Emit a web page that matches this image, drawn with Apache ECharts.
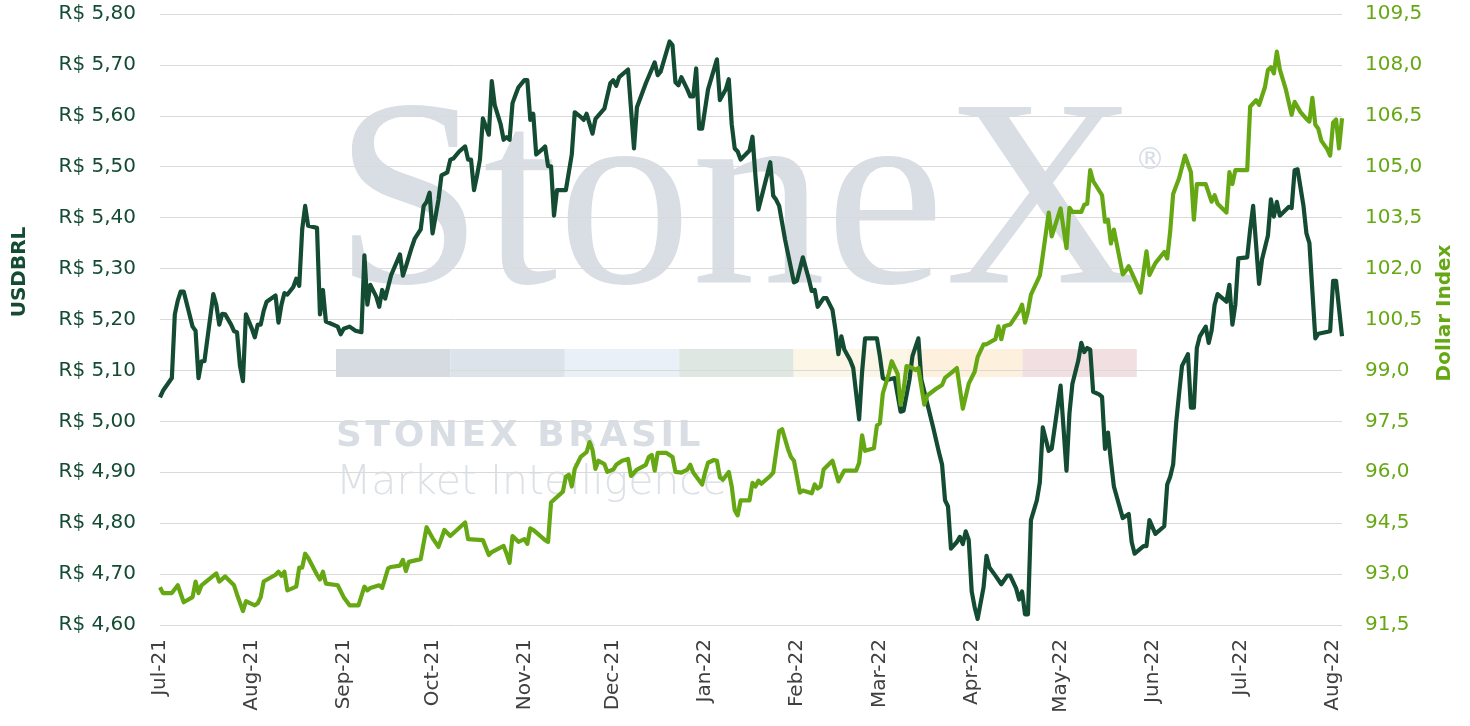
<!DOCTYPE html>
<html>
<head>
<meta charset="utf-8">
<script src="https://cdn.jsdelivr.net/npm/echarts@6/dist/echarts.min.js"></script>
<style>
    html, body { margin: 0; padding: 0; background: #fff; }
    #chart { width: 1470px; height: 726px; }
</style>
</head>
<body>
<div id="chart"></div>
<script>
// USDBRL (left axis)
const usdDates = [
    '2021-07-01','2021-07-02','2021-07-05','2021-07-06','2021-07-07','2021-07-08','2021-07-09','2021-07-12','2021-07-13','2021-07-14',
    '2021-07-15','2021-07-16','2021-07-19','2021-07-20','2021-07-21','2021-07-22','2021-07-23','2021-07-25','2021-07-26','2021-07-27',
    '2021-07-28','2021-07-29','2021-07-30','2021-08-01','2021-08-02','2021-08-03','2021-08-04','2021-08-05','2021-08-06','2021-08-09',
    '2021-08-10','2021-08-11','2021-08-12','2021-08-13','2021-08-15','2021-08-16','2021-08-17','2021-08-18','2021-08-19','2021-08-20',
    '2021-08-23','2021-08-24','2021-08-25','2021-08-26','2021-08-30','2021-08-31','2021-09-01','2021-09-03','2021-09-05','2021-09-07',
    '2021-09-08','2021-09-09','2021-09-10','2021-09-12','2021-09-13','2021-09-14','2021-09-15','2021-09-17','2021-09-20','2021-09-21',
    '2021-09-22','2021-09-24','2021-09-25','2021-09-27','2021-09-28','2021-09-29','2021-09-30','2021-10-01','2021-10-03','2021-10-04',
    '2021-10-06','2021-10-07','2021-10-08','2021-10-10','2021-10-12','2021-10-13','2021-10-14','2021-10-15','2021-10-16','2021-10-17',
    '2021-10-18','2021-10-20','2021-10-21','2021-10-22','2021-10-24','2021-10-25','2021-10-26','2021-10-27','2021-10-28','2021-10-29',
    '2021-10-30','2021-11-01','2021-11-02','2021-11-03','2021-11-04','2021-11-05','2021-11-07','2021-11-08','2021-11-09','2021-11-10',
    '2021-11-11','2021-11-12','2021-11-15','2021-11-16','2021-11-17','2021-11-18','2021-11-20','2021-11-21','2021-11-22','2021-11-24',
    '2021-11-25','2021-11-28','2021-11-30','2021-12-01','2021-12-02','2021-12-03','2021-12-06','2021-12-08','2021-12-09','2021-12-12',
    '2021-12-15','2021-12-16','2021-12-17','2021-12-20','2021-12-21','2021-12-22','2021-12-23','2021-12-24','2021-12-26','2021-12-27',
    '2021-12-28','2021-12-29','2021-12-30','2021-12-31','2022-01-02','2022-01-05','2022-01-06','2022-01-08','2022-01-09','2022-01-10',
    '2022-01-11','2022-01-12','2022-01-13','2022-01-14','2022-01-16','2022-01-17','2022-01-18','2022-01-19','2022-01-21','2022-01-22',
    '2022-01-23','2022-01-24','2022-01-25','2022-01-26','2022-01-28','2022-01-31','2022-02-01','2022-02-03','2022-02-05','2022-02-06',
    '2022-02-07','2022-02-08','2022-02-10','2022-02-11','2022-02-13','2022-02-14','2022-02-15','2022-02-16','2022-02-17','2022-02-19',
    '2022-02-20','2022-02-22','2022-02-23','2022-02-24','2022-02-28','2022-03-01','2022-03-02','2022-03-03','2022-03-04','2022-03-06',
    '2022-03-08','2022-03-09','2022-03-11','2022-03-12','2022-03-14','2022-03-15','2022-03-17','2022-03-19','2022-03-21','2022-03-22',
    '2022-03-23','2022-03-24','2022-03-25','2022-03-27','2022-03-28','2022-03-29','2022-03-30','2022-03-31','2022-04-01','2022-04-02',
    '2022-04-03','2022-04-05','2022-04-06','2022-04-07','2022-04-09','2022-04-11','2022-04-13','2022-04-14','2022-04-16','2022-04-17',
    '2022-04-18','2022-04-19','2022-04-20','2022-04-21','2022-04-23','2022-04-24','2022-04-25','2022-04-27','2022-04-28','2022-05-01',
    '2022-05-03','2022-05-04','2022-05-05','2022-05-07','2022-05-08','2022-05-09','2022-05-10','2022-05-11','2022-05-12','2022-05-14',
    '2022-05-15','2022-05-16','2022-05-17','2022-05-18','2022-05-19','2022-05-22','2022-05-24','2022-05-25','2022-05-26','2022-05-27',
    '2022-05-29','2022-05-30','2022-05-31','2022-06-02','2022-06-05','2022-06-06','2022-06-07','2022-06-08','2022-06-09','2022-06-10',
    '2022-06-11','2022-06-13','2022-06-14','2022-06-15','2022-06-16','2022-06-17','2022-06-19','2022-06-20','2022-06-21','2022-06-22',
    '2022-06-23','2022-06-26','2022-06-27','2022-06-28','2022-06-29','2022-06-30','2022-07-03','2022-07-04','2022-07-05','2022-07-07',
    '2022-07-08','2022-07-10','2022-07-11','2022-07-12','2022-07-13','2022-07-14','2022-07-17','2022-07-18','2022-07-19','2022-07-20',
    '2022-07-22','2022-07-23','2022-07-24','2022-07-25','2022-07-26','2022-07-27','2022-07-31','2022-08-01','2022-08-02','2022-08-04'
];
const usdValues = [
    5.047,5.06,5.085,5.21,5.237,5.255,5.255,5.186,5.178,5.085,
    5.118,5.118,5.25,5.229,5.19,5.211,5.21,5.19,5.177,5.175,
    5.109,5.079,5.21,5.182,5.165,5.19,5.19,5.217,5.235,5.247,
    5.194,5.229,5.252,5.249,5.264,5.28,5.266,5.377,5.423,5.384,
    5.38,5.21,5.258,5.196,5.186,5.171,5.182,5.186,5.178,5.175,
    5.326,5.229,5.268,5.245,5.225,5.258,5.241,5.287,5.328,5.286,
    5.304,5.342,5.359,5.377,5.423,5.431,5.449,5.369,5.435,5.483,
    5.489,5.514,5.516,5.53,5.54,5.514,5.514,5.454,5.482,5.514,
    5.595,5.563,5.668,5.621,5.583,5.553,5.558,5.553,5.625,5.641,
    5.656,5.67,5.67,5.592,5.604,5.524,5.534,5.54,5.501,5.501,
    5.404,5.454,5.454,5.489,5.524,5.607,5.598,5.592,5.604,5.565,
    5.594,5.614,5.664,5.67,5.659,5.676,5.691,5.536,5.617,5.664,
    5.705,5.68,5.687,5.746,5.739,5.666,5.66,5.676,5.652,5.638,
    5.638,5.693,5.575,5.575,5.652,5.711,5.631,5.652,5.672,5.583,
    5.536,5.53,5.514,5.52,5.532,5.559,5.482,5.416,5.462,5.485,
    5.509,5.443,5.435,5.423,5.357,5.273,5.276,5.322,5.28,5.256,
    5.258,5.225,5.242,5.242,5.219,5.18,5.132,5.167,5.141,5.12,
    5.105,5.004,5.097,5.163,5.163,5.128,5.085,5.082,5.082,5.085,
    5.019,5.021,5.082,5.128,5.163,5.082,5.035,4.988,4.938,4.915,
    4.845,4.833,4.75,4.763,4.773,4.759,4.784,4.767,4.666,4.635,
    4.612,4.674,4.736,4.713,4.697,4.68,4.697,4.697,4.672,4.65,
    4.666,4.621,4.621,4.806,4.845,4.88,4.988,4.942,4.946,5.07,
    4.903,5.016,5.074,5.12,5.154,5.136,5.144,5.141,5.058,5.053,
    5.048,4.946,4.978,4.922,4.872,4.81,4.818,4.763,4.74,4.745,
    4.755,4.755,4.806,4.779,4.794,4.876,4.891,4.915,4.996,5.054,
    5.109,5.132,5.027,5.027,5.144,5.167,5.186,5.154,5.179,5.229,
    5.25,5.235,5.268,5.19,5.229,5.32,5.322,5.377,5.423,5.27,
    5.318,5.365,5.436,5.402,5.431,5.404,5.421,5.419,5.493,5.495,
    5.423,5.369,5.35,5.256,5.163,5.172,5.177,5.276,5.276,5.167
];

// Dollar Index (right axis)
const dxyDates = [
    '2021-07-01','2021-07-02','2021-07-05','2021-07-07','2021-07-09','2021-07-12','2021-07-13','2021-07-14','2021-07-15','2021-07-20',
    '2021-07-21','2021-07-23','2021-07-26','2021-07-27','2021-07-29','2021-07-30','2021-08-02','2021-08-03','2021-08-04','2021-08-05',
    '2021-08-09','2021-08-10','2021-08-11','2021-08-12','2021-08-13','2021-08-16','2021-08-17','2021-08-18','2021-08-19','2021-08-20',
    '2021-08-23','2021-08-24','2021-08-25','2021-08-26','2021-08-30','2021-09-01','2021-09-03','2021-09-06','2021-09-08','2021-09-09',
    '2021-09-10','2021-09-13','2021-09-14','2021-09-16','2021-09-17','2021-09-20','2021-09-21','2021-09-22','2021-09-23','2021-09-27',
    '2021-09-29','2021-10-01','2021-10-03','2021-10-05','2021-10-07','2021-10-12','2021-10-13','2021-10-18','2021-10-20','2021-10-21',
    '2021-10-25','2021-10-26','2021-10-27','2021-10-28','2021-10-30','2021-11-01','2021-11-02','2021-11-03','2021-11-04','2021-11-08',
    '2021-11-09','2021-11-10','2021-11-11','2021-11-14','2021-11-15','2021-11-16','2021-11-17','2021-11-18','2021-11-20','2021-11-22',
    '2021-11-23','2021-11-24','2021-11-25','2021-11-26','2021-11-28','2021-11-29','2021-12-01','2021-12-02','2021-12-04','2021-12-06',
    '2021-12-07','2021-12-09','2021-12-12','2021-12-13','2021-12-14','2021-12-15','2021-12-16','2021-12-19','2021-12-21','2021-12-22',
    '2021-12-24','2021-12-26','2021-12-27','2021-12-28','2021-12-31','2022-01-01','2022-01-02','2022-01-04','2022-01-05','2022-01-06',
    '2022-01-07','2022-01-09','2022-01-10','2022-01-11','2022-01-12','2022-01-13','2022-01-16','2022-01-17','2022-01-18','2022-01-19',
    '2022-01-20','2022-01-23','2022-01-24','2022-01-26','2022-01-27','2022-01-29','2022-01-30','2022-01-31','2022-02-02','2022-02-03',
    '2022-02-06','2022-02-07','2022-02-08','2022-02-09','2022-02-10','2022-02-13','2022-02-15','2022-02-17','2022-02-21','2022-02-22',
    '2022-02-23','2022-02-24','2022-02-27','2022-02-28','2022-03-01','2022-03-02','2022-03-04','2022-03-05','2022-03-07','2022-03-08',
    '2022-03-09','2022-03-10','2022-03-12','2022-03-13','2022-03-14','2022-03-16','2022-03-17','2022-03-20','2022-03-22','2022-03-23',
    '2022-03-25','2022-03-27','2022-03-29','2022-03-31','2022-04-02','2022-04-03','2022-04-05','2022-04-06','2022-04-09','2022-04-10',
    '2022-04-11','2022-04-12','2022-04-14','2022-04-17','2022-04-18','2022-04-19','2022-04-20','2022-04-21','2022-04-24','2022-04-25',
    '2022-04-27','2022-04-28','2022-05-01','2022-05-03','2022-05-04','2022-05-05','2022-05-08','2022-05-09','2022-05-10','2022-05-11',
    '2022-05-12','2022-05-15','2022-05-16','2022-05-17','2022-05-18','2022-05-19','2022-05-22','2022-05-23','2022-05-24','2022-05-26',
    '2022-05-28','2022-05-30','2022-05-31','2022-06-02','2022-06-05','2022-06-06','2022-06-07','2022-06-08','2022-06-10','2022-06-12',
    '2022-06-14','2022-06-15','2022-06-16','2022-06-19','2022-06-21','2022-06-22','2022-06-23','2022-06-26','2022-06-27','2022-06-28',
    '2022-06-29','2022-07-03','2022-07-04','2022-07-06','2022-07-07','2022-07-09','2022-07-10','2022-07-11','2022-07-12','2022-07-13',
    '2022-07-14','2022-07-16','2022-07-18','2022-07-19','2022-07-21','2022-07-23','2022-07-24','2022-07-25','2022-07-26','2022-07-27',
    '2022-07-28','2022-07-30','2022-07-31','2022-08-01','2022-08-02','2022-08-03','2022-08-04'
];
const dxyValues = [
    92.61,92.44,92.44,92.67,92.17,92.32,92.78,92.44,92.67,93.02,
    92.78,92.93,92.67,92.40,91.91,92.20,92.08,92.14,92.32,92.78,
    92.98,93.07,92.95,93.07,92.52,92.63,93.19,93.19,93.60,93.48,
    92.98,92.84,93.07,92.72,92.67,92.32,92.08,92.08,92.63,92.52,
    92.59,92.67,92.59,93.17,93.21,93.25,93.42,93.09,93.36,93.44,
    94.38,94.06,93.80,94.30,94.12,94.52,94.03,94.00,93.56,93.65,
    93.83,93.60,93.33,94.12,93.95,94.03,93.89,94.35,94.30,94.00,
    93.95,95.11,95.19,95.43,95.87,95.93,95.58,96.10,96.45,96.59,
    96.89,96.66,96.10,96.34,96.24,96.01,96.08,96.22,96.34,96.39,
    95.89,96.08,96.22,96.45,96.51,96.05,96.57,96.57,96.45,96.01,
    95.99,96.08,96.22,95.99,95.64,95.99,96.28,96.36,96.34,95.85,
    95.78,96.01,95.58,94.88,94.73,95.17,95.17,95.69,95.58,95.75,
    95.66,95.89,95.99,97.21,97.27,96.68,96.45,96.34,95.40,95.46,
    95.38,95.64,95.52,95.58,96.08,96.34,95.73,96.05,96.05,96.28,
    97.09,96.63,96.71,97.38,97.44,98.32,98.90,99.27,98.90,97.99,
    98.43,99.13,99.07,99.01,99.07,97.99,98.26,98.46,98.57,98.78,
    98.92,99.07,97.87,98.61,98.96,99.39,99.77,99.77,99.92,100.30,
    99.92,100.30,100.35,100.74,100.94,100.41,100.74,101.23,101.79,102.39,
    103.65,102.95,103.77,102.60,103.79,103.67,103.67,103.88,103.91,104.90,
    104.58,104.16,103.38,103.44,102.74,103.15,101.83,101.93,102.07,101.69,
    101.29,102.51,101.81,102.16,102.49,102.30,103.09,104.20,104.66,105.33,
    104.84,103.44,104.49,104.49,103.97,104.16,103.91,103.65,104.84,104.49,
    104.90,104.90,106.77,106.96,106.82,107.35,107.85,107.93,107.75,108.39,
    107.87,107.29,106.53,106.91,106.61,106.41,106.33,107.03,106.24,106.12,
    105.77,105.52,105.33,106.30,106.39,105.54,106.43
];

const monthNames = ['Jan', 'Feb', 'Mar', 'Apr', 'May', 'Jun', 'Jul', 'Aug', 'Sep', 'Oct', 'Nov', 'Dec'];

const darkGreen = '#134b33';
const lightGreen = '#66a814';
const markColor = '#d9dee5';
const bandColors = ['#d6dbe2', '#dde3ea', '#e9f0f7', '#dee7e1', '#fbf6e6', '#fdf0dd', '#f2dfe1'];
const DAY = 24 * 3600 * 1000;

const chart = echarts.init(document.getElementById('chart'));

// StoneX watermark behind the plot
const watermark = [
    {
        type: 'text', x: 334, y: 212, z: -10, silent: true,
        style: {text: 'StoneX', font: '268px "Liberation Serif"', fill: markColor, textAlign: 'left', textVerticalAlign: 'middle'}
    },
    {
        type: 'text', x: 1150, y: 161, z: -10, silent: true,
        style: {text: '®', font: '30px "DejaVu Sans"', fill: markColor, textAlign: 'center', textVerticalAlign: 'middle'}
    },
    {
        // hair spaces stand in for the wide letter spacing of the logo
        type: 'text', x: 336, y: 437, z: -10, silent: true,
        style: {text: 'STONEX BRASIL'.split('').join('\u200A'), font: 'bold 36px "DejaVu Sans"', fill: markColor, textAlign: 'left', textVerticalAlign: 'middle'}
    },
    {
        type: 'text', x: 336, y: 483, z: -10, silent: true,
        style: {text: 'Market Intelligence', font: '200 41px "DejaVu Sans"', fill: '#dce1e7', textAlign: 'left', textVerticalAlign: 'middle'}
    }
];
bandColors.forEach((c, i) => {
    watermark.push({
        type: 'rect', z: -10, silent: true,
        shape: {x: 336 + i * 114.4, y: 349, width: 114.4, height: 28},
        style: {fill: c}
    });
});

const option = {
    backgroundColor: '#ffffff',
    animation: false,
    grid: {left: 160, right: 128, top: 14, bottom: 101},
    xAxis: {
        type: 'time',
        min: '2021-07-01',
        max: '2022-08-04',
        splitNumber: 14,
        minInterval: 28 * DAY,
        maxInterval: 31 * DAY,
        axisLine: {show: false},
        axisTick: {show: false},
        splitLine: {show: false},
        axisLabel: {
            rotate: 90,
            margin: 14,
            fontSize: 20,
            fontFamily: 'DejaVu Sans',
            color: '#404040',
            hideOverlap: false,
            formatter: (value) => {
                const d = new Date(value);
                return monthNames[d.getMonth()] + '-' + String(d.getFullYear()).slice(2);
            }
        }
    },
    yAxis: [
        {
            type: 'value',
            position: 'left',
            min: 4.6,
            max: 5.8,
            interval: 0.1,
            axisLine: {show: false},
            axisTick: {show: false},
            splitLine: {lineStyle: {color: '#dadada', width: 1}},
            axisLabel: {
                margin: 24,
                fontSize: 20,
                fontFamily: 'DejaVu Sans',
                color: darkGreen,
                formatter: (v) => 'R$ ' + v.toFixed(2).replace('.', ',')
            }
        },
        {
            type: 'value',
            position: 'right',
            min: 91.5,
            max: 109.5,
            interval: 1.5,
            axisLine: {show: false},
            axisTick: {show: false},
            splitLine: {show: false},
            axisLabel: {
                margin: 23,
                fontSize: 20,
                fontFamily: 'DejaVu Sans',
                color: lightGreen,
                formatter: (v) => v.toFixed(1).replace('.', ',')
            }
        }
    ],
    series: [
        {
            name: 'USDBRL',
            type: 'line',
            yAxisIndex: 0,
            showSymbol: false,
            data: usdDates.map((d, i) => [d, usdValues[i]]),
            lineStyle: {color: darkGreen, width: 4.2, join: 'round'},
            itemStyle: {color: darkGreen}
        },
        {
            name: 'Dollar Index',
            type: 'line',
            yAxisIndex: 1,
            showSymbol: false,
            data: dxyDates.map((d, i) => [d, dxyValues[i]]),
            lineStyle: {color: lightGreen, width: 4.2, join: 'round'},
            itemStyle: {color: lightGreen}
        }
    ],
    graphic: {
        elements: watermark.concat([
            {
                type: 'text', x: 20, y: 272, rotation: Math.PI / 2,
                style: {text: 'USDBRL', font: 'bold 20px "DejaVu Sans"', fill: darkGreen, textAlign: 'center', textVerticalAlign: 'middle'}
            },
            {
                type: 'text', x: 1445, y: 313, rotation: Math.PI / 2,
                style: {text: 'Dollar Index', font: 'bold 20px "DejaVu Sans"', fill: lightGreen, textAlign: 'center', textVerticalAlign: 'middle'}
            }
        ])
    }
};

chart.setOption(option);
</script>
</body>
</html>
